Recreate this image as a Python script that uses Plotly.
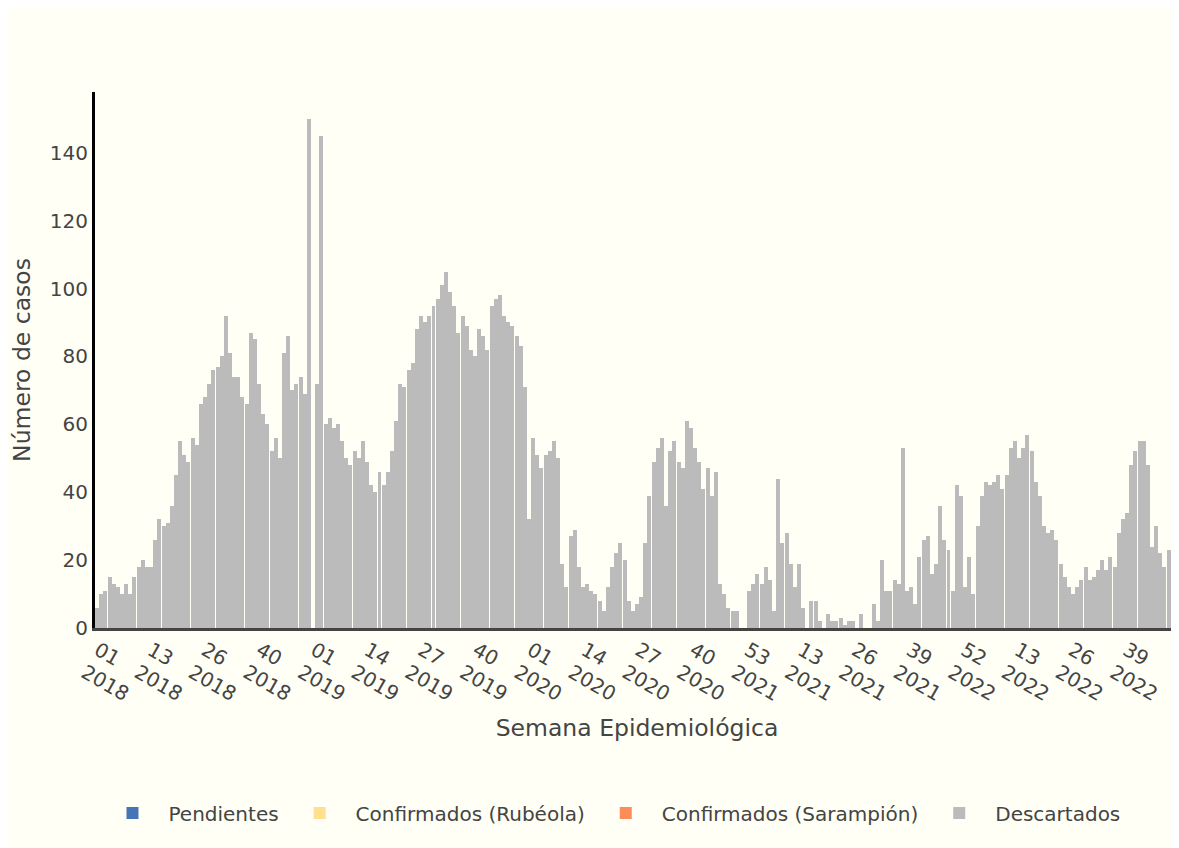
import plotly.graph_objects as go
import pandas as pd

# Epidemiological weeks 2018-01 .. 2022-52 (week start dates, Sunday)
first_week_start = "2017-12-31"

descartados = [
    6, 10, 11, 15, 13, 12, 10, 13, 10, 15, 18, 20, 18, 18, 26, 32, 30, 31, 36, 45,
    55, 51, 49, 56, 54, 66, 68, 72, 76, 77, 80, 92, 81, 74, 74, 68, 66, 87, 85, 72,
    63, 60, 52, 56, 50, 81, 86, 70, 72, 74, 69, 150,
    0, 72, 145, 60, 62, 59, 60, 55, 50, 48, 52, 50, 55, 49, 42, 40, 46, 42, 46, 52,
    61, 72, 71, 76, 78, 88, 92, 90, 92, 95, 97, 101, 105, 99, 95, 87, 92, 89, 82, 80,
    88, 86, 82, 95, 97, 98, 92, 90, 89, 86, 83, 71,
    32, 56, 51, 47, 51, 52, 55, 50, 19, 12, 27, 29, 18, 12, 13, 11, 10, 8, 5, 12,
    18, 22, 25, 20, 8, 5, 7, 9, 25, 39, 49, 53, 56, 36, 52, 55, 49, 47, 61, 59,
    53, 49, 41, 47, 39, 46, 13, 10, 6, 5, 5, 0, 0,
    11, 13, 16, 13, 18, 14, 5, 44, 25, 28, 19, 12, 19, 6, 0, 8, 8, 2, 0, 4,
    2, 2, 3, 1, 2, 2, 0, 4, 0, 0, 7, 2, 20, 11, 11, 14, 13, 53, 11, 12,
    7, 21, 26, 27, 16, 19, 36, 26, 23, 11, 42, 39,
    12, 21, 10, 30, 39, 43, 42, 43, 45, 41, 45, 53, 55, 50, 53, 57, 52, 43, 39, 30,
    28, 29, 26, 19, 15, 12, 10, 12, 14, 18, 14, 15, 17, 20, 17, 21, 18, 28, 32, 34,
    48, 52, 55, 55, 48, 24, 30, 22, 18, 23, 10, 7,
]
# The other categories have no cases in the period shown
pendientes = [0]
confirmados_rubeola = [0]
confirmados_sarampion = [0]

series_names = ["Pendientes", "Confirmados (Rubéola)", "Confirmados (Sarampión)", "Descartados"]
series_colors = ["#4575b4", "#fee090", "#fc8d59", "#bbbbbb"]

weeks = pd.date_range(first_week_start, periods=len(descartados), freq="7D")

fig = go.Figure()
for name, vals, col in zip(series_names,
                           [pendientes, confirmados_rubeola, confirmados_sarampion, descartados],
                           series_colors):
    fig.add_trace(go.Bar(x=list(weeks[:len(vals)]), y=vals, name=name,
                         marker=dict(color=col, line=dict(width=0))))

bg = "#fffff5"
fig.update_layout(
    width=1171, height=840,
    margin=dict(l=87, r=0, t=84, b=220),
    paper_bgcolor=bg, plot_bgcolor=bg,
    barmode="stack", bargap=0.04,
    font=dict(family="Verdana, DejaVu Sans, sans-serif", size=20, color="#444"),
    showlegend=True,
    legend=dict(orientation="h", x=0.476, xanchor="center", y=-0.345, yanchor="middle",
                font=dict(size=20), itemwidth=62, traceorder="normal"),
    xaxis=dict(type="date", tickformat="%V<br>%Y", dtick="M3", tick0="2018-01-01",
               tickangle=30, showline=True, linecolor="#444", linewidth=3,
               showgrid=False, zeroline=False, ticks="",
               title=dict(text="Semana Epidemiológica", font=dict(size=23.5))),
    yaxis=dict(showline=True, linecolor="black", linewidth=3, showgrid=False,
               zeroline=False, ticks="", tickfont=dict(size=20),
               title=dict(text="Número de casos", font=dict(size=23.5))),
)

fig.write_html("out.html")
